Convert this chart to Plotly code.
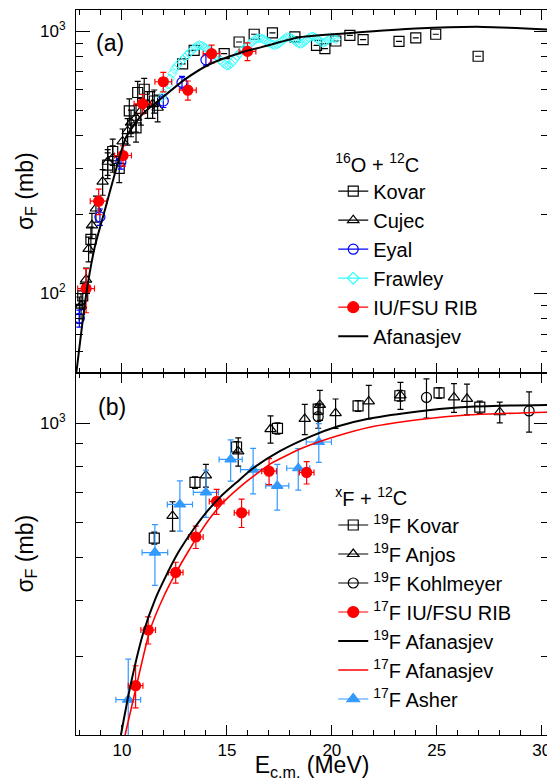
import numpy as np
import plotly.graph_objects as go

# ---------------- panel (a): 16O + 12C ----------------
kovar16_E = [7.97, 8.13, 8.52, 9.32, 9.56, 9.87, 10.35, 10.67, 10.75, 11.06, 11.54,
             12.89, 13.44, 14.87, 15.58, 16.3, 17.17, 18.24, 19.27, 19.67, 20.19,
             20.86, 21.49, 23.2, 24.0, 24.95, 26.97]
kovar16_S = [87, 98, 161, 309, 348, 300, 497, 428, 584, 601, 542,
             751, 845, 821, 910, 974, 985, 951, 884, 858, 918,
             965, 929, 915, 943, 974, 803]
kovar16_err = [10, 11, 18, 35, 40, 35, 55, 50, 60, 60, 55,
               0, 0, 0, 0, 0, 0, 0, 0, 0, 0,
               0, 0, 0, 0, 0, 0]

cujec_E = [8.05, 8.29, 8.41, 8.57, 8.76, 9.08, 9.32, 9.56, 10.03, 10.27, 10.43,
           10.67, 10.9, 11.22, 11.46, 11.7]
cujec_S = [90, 113, 148, 182, 211, 267, 318, 328, 380, 416, 448,
           468, 497, 527, 527, 511]
cujec_err = [10, 12, 16, 20, 24, 30, 36, 38, 44, 48, 52,
             55, 58, 62, 62, 60]

eyal_E = [7.97, 8.95, 9.95, 11.97, 12.86, 14.0]
eyal_S = [80.5, 196, 318, 542, 638, 778]
eyal_err = [6, 14, 20, 30, 35, 40]

frawley_E = [11.9, 12.0, 12.1, 12.2, 12.3, 12.4, 12.5, 12.6, 12.7, 12.8, 12.9,
             13.0, 13.1, 13.2, 13.3, 13.4, 13.5, 13.6, 13.7, 13.8, 13.9,
             14.0, 14.1, 14.2, 14.3, 14.4, 14.5, 14.6, 14.7, 14.8, 14.9,
             15.0, 15.1, 15.2, 15.3, 15.4, 15.5, 15.6, 15.7, 15.8, 15.9,
             16.0, 16.1, 16.2, 16.3, 16.4, 16.5, 16.6, 16.7, 16.8, 16.9,
             17.0, 17.1, 17.2, 17.3, 17.4, 17.5, 17.6, 17.7, 17.8, 17.9,
             18.0, 18.1, 18.2, 18.3, 18.4, 18.5, 18.6, 18.7, 18.8, 18.9,
             19.0, 19.1, 19.2, 19.3, 19.4, 19.5, 19.6, 19.7, 19.8, 19.9,
             20.0, 20.1, 20.2]
frawley_S = [560, 580, 600, 625, 660, 690, 715, 735, 750, 765, 780,
             795, 810, 825, 840, 855, 868, 880, 885, 882, 872,
             862, 852, 840, 825, 810, 800, 790, 775, 760, 748,
             740, 742, 752, 768, 785, 805, 825, 842, 855, 868,
             880, 895, 910, 925, 935, 940, 940, 935, 928, 918,
             905, 895, 888, 885, 890, 900, 915, 930, 942, 950,
             948, 938, 925, 910, 900, 895, 900, 912, 928, 942,
             952, 955, 948, 935, 920, 908, 905, 912, 925, 938,
             945, 940, 932]

rib16_E = [8.29, 8.89, 10.05, 10.98, 11.97, 13.14, 14.27, 15.98]
rib16_S = [104.5, 225, 336, 529, 642, 596, 821, 838]
rib16_dE = [0.4, 0.4, 0.4, 0.4, 0.4, 0.4, 0.4, 0.4]
rib16_dS = [20, 25, 30, 45, 55, 50, 65, 65]

afan16_E = [7.8, 8.0, 8.3, 8.7, 9.2, 9.6, 10.2, 11.0, 12.0, 13.0, 14.2, 15.7,
            16.9, 18.5, 20.9, 24.0, 27.2, 30.3]
afan16_S = [48, 65, 100, 150, 210, 275, 395, 485, 565, 655, 750, 830,
            880, 950, 985, 1024, 1039, 1015]

# ---------------- panel (b): xF + 12C ----------------
kovar19_E = [11.54, 13.48, 15.46, 17.41, 19.35, 21.25, 23.24, 25.11, 27.05]
kovar19_S = [553, 737, 885, 974, 1076, 1094, 1153, 1170, 1087]
kovar19_err = [17, 22, 25, 28, 30, 30, 32, 33, 35]

anjos_E = [12.41, 14.0, 15.54, 17.08, 18.71, 19.43, 20.18, 21.76, 23.27, 25.82, 26.44, 28.0]
anjos_S = [620, 764, 865, 971, 1023, 1100, 1054, 1120, 1155, 1143, 1135, 1059]
anjos_err = [47, 45, 63, 68, 80, 85, 80, 97, 80, 85, 90, 57]

kohl_E = [19.35, 24.51, 29.4]
kohl_S = [1035, 1143, 1066]
kohl_err = [60, 115, 110]

rib17_E = [10.65, 11.25, 12.56, 13.52, 14.51, 15.70, 17.01, 18.8]
rib17_S = [258, 344, 463, 556, 668, 630, 781, 776]
rib17_dE = [0.35, 0.35, 0.35, 0.35, 0.35, 0.35, 0.35, 0.35]
rib17_dS = [28, 24, 25, 32, 43, 46, 52, 45]

asher_E = [10.3, 11.57, 12.76, 14.0, 15.18, 16.25, 17.4, 18.4, 19.38]
asher_S = [240, 513, 658, 700, 830, 787, 724, 793, 908]
asher_dE = [0.59, 0.61, 0.6, 0.6, 0.55, 0.6, 0.55, 0.55, 0.6]
asher_dS = [56, 80, 85, 85, 88, 92, 85, 85, 91]

afan19_E = [9.95, 10.38, 11.0, 11.6, 12.1, 12.7, 13.4, 14.0, 14.7, 15.5, 16.2, 17.5,
            19.0, 20.3, 21.8, 24.2, 26.0, 28.0, 30.5]
afan19_S = [200, 255, 337, 405, 455, 515, 578, 630, 685, 740, 790, 865,
            935, 985, 1025, 1065, 1085, 1095, 1100]

afan17_E = [10.15, 10.7, 11.33, 12.0, 12.6, 13.2, 13.71, 14.3, 14.98, 15.7, 16.41,
            17.05, 18.6, 20.2, 21.8, 24.2, 26.6, 30.5]
afan17_S = [200, 259, 343, 410, 465, 520, 568, 622, 676, 725, 770,
            810, 880, 935, 980, 1020, 1045, 1060]

# tick labels
ytick_vals_a = [100, 1000]
ytick_text_a = ["10<sup>2</sup>", "10<sup>3</sup>"]
ytick_vals_b = [1000]
ytick_text_b = ["10<sup>3</sup>"]
xtick_vals = [10, 15, 20, 25, 30]
xtick_text = ["10", "15", "20", "25", "30"]

FONT = "Liberation Sans, Arial, Helvetica, sans-serif"
RED = "#ff0000"
BLUE = "#0000ff"
CYAN = "#33ffff"
ASHER = "#3399ff"

fig = go.Figure()


def ebar(arr, color, width=3):
    return dict(type="data", array=arr, visible=True, color=color, thickness=1.2, width=width)


def add_pts(x, y, ey, color, symbol, size, ya, ex=None, fill=None, lw=1.2):
    mk = dict(symbol=symbol, size=size, color=fill if fill else color,
              line=dict(color=color, width=lw))
    tr = go.Scatter(x=x, y=y, mode="markers", marker=mk, xaxis="x" if ya == "y" else "x2",
                    yaxis=ya, showlegend=False, hoverinfo="x+y")
    if ey is not None:
        tr.error_y = ebar(ey, color)
    if ex is not None:
        tr.error_x = ebar(ex, color)
    fig.add_trace(tr)


def add_leg(name, color, symbol, size, legend, fill=None, lw=1.2):
    fig.add_trace(go.Scatter(x=[None], y=[None], mode="lines+markers", name=name,
                             line=dict(color=color, width=1.2),
                             marker=dict(symbol=symbol, size=size, color=fill if fill else color,
                                         line=dict(color=color, width=lw)),
                             xaxis="x2" if legend == "legend" else "x",
                             yaxis="y2" if legend == "legend" else "y",
                             legend=legend))


# ---- panel (a) traces ----
add_pts(kovar16_E, kovar16_S, kovar16_err, "black", "square-open", 10, "y2")
add_pts(cujec_E, cujec_S, cujec_err, "black", "triangle-up-open", 10, "y2")
add_pts(eyal_E, eyal_S, eyal_err, BLUE, "circle-open", 10, "y2")
add_pts(frawley_E, frawley_S, None, CYAN, "diamond-open", 7, "y2", lw=1)
add_pts(rib16_E, rib16_S, rib16_dS, RED, "circle", 10, "y2", ex=rib16_dE)

add_leg("Kovar", "black", "square-open", 10, "legend")
add_leg("Cujec", "black", "triangle-up-open", 10, "legend")
add_leg("Eyal", BLUE, "circle-open", 10, "legend")
add_leg("Frawley", CYAN, "diamond-open", 9, "legend")
add_leg("IU/FSU RIB", RED, "circle", 11, "legend")
fig.add_trace(go.Scatter(x=afan16_E, y=afan16_S, mode="lines", name="Afanasjev",
                         line=dict(color="black", width=2, shape="spline", smoothing=0.6),
                         xaxis="x2", yaxis="y2", legend="legend"))

# ---- panel (b) traces ----
add_pts(kovar19_E, kovar19_S, kovar19_err, "black", "square-open", 10, "y")
add_pts(anjos_E, anjos_S, anjos_err, "black", "triangle-up-open", 10, "y")
add_pts(kohl_E, kohl_S, kohl_err, "black", "circle-open", 10, "y")
add_pts(asher_E, asher_S, asher_dS, ASHER, "triangle-up", 10, "y", ex=asher_dE)
add_pts(rib17_E, rib17_S, rib17_dS, RED, "circle", 10, "y", ex=rib17_dE)

add_leg("<sup>19</sup>F Kovar", "black", "square-open", 10, "legend2")
add_leg("<sup>19</sup>F Anjos", "black", "triangle-up-open", 10, "legend2")
add_leg("<sup>19</sup>F Kohlmeyer", "black", "circle-open", 10, "legend2")
add_leg("<sup>17</sup>F IU/FSU RIB", RED, "circle", 11, "legend2")
fig.add_trace(go.Scatter(x=afan19_E, y=afan19_S, mode="lines", name="<sup>19</sup>F Afanasjev",
                         line=dict(color="black", width=2, shape="spline", smoothing=0.6),
                         xaxis="x", yaxis="y", legend="legend2"))
fig.add_trace(go.Scatter(x=afan17_E, y=afan17_S, mode="lines", name="<sup>17</sup>F Afanasjev",
                         line=dict(color=RED, width=1.6, shape="spline", smoothing=0.6),
                         xaxis="x", yaxis="y", legend="legend2"))
add_leg("<sup>17</sup>F Asher", ASHER, "triangle-up", 11, "legend2")

minor_x = [v for v in range(8, 31) if v % 5 != 0]
minor_ya = [50, 60, 70, 80, 90, 200, 300, 400, 500, 600, 700, 800, 900]
minor_yb = [200, 300, 400, 500, 600, 700, 800, 900]

xcommon = dict(range=[7.81, 30.3], tickmode="array", tickvals=xtick_vals, ticktext=xtick_text,
               ticks="inside", ticklen=10, tickwidth=1, tickcolor="black",
               minor=dict(tickmode="array", tickvals=minor_x, ticks="inside", ticklen=5,
                          tickwidth=1, tickcolor="black"),
               showline=True, linecolor="black", linewidth=1, mirror="allticks",
               showgrid=False, zeroline=False, automargin=False,
               tickfont=dict(family=FONT, size=17, color="black"))
ycommon = dict(type="log", tickmode="array", ticks="inside", ticklen=14, tickwidth=1,
               tickcolor="black", showline=True, linecolor="black", linewidth=1,
               mirror="allticks", showgrid=False, zeroline=False, automargin=False,
               tickfont=dict(family=FONT, size=17, color="black"),
               ticklabelstandoff=6)

# the page adds an 8 px body margin, so the figure is 8 px smaller and shifted
fig.update_layout(
    width=547, height=773,
    margin=dict(l=68, r=7, t=2, b=46, autoexpand=False),
    paper_bgcolor="white", plot_bgcolor="white",
    font=dict(family=FONT, size=17, color="black"),
    xaxis=dict(**xcommon, domain=[0, 1], anchor="y",
               title=dict(text="E<sub>c.m.</sub> (MeV)", font=dict(family=FONT, size=23),
                          standoff=4)),
    xaxis2=dict(**xcommon, domain=[0, 1], anchor="y2", matches="x", showticklabels=False),
    yaxis=dict(**ycommon, domain=[0, 0.5], anchor="x",
               range=[np.log10(200), 3.114], tickvals=ytick_vals_b, ticktext=ytick_text_b,
               minor=dict(tickmode="array", tickvals=minor_yb, ticks="inside", ticklen=7,
                          tickwidth=1, tickcolor="black"),
               title=dict(text="σ<sub>F</sub> (mb)", font=dict(family=FONT, size=23), standoff=0)),
    yaxis2=dict(**ycommon, domain=[0.5, 1], anchor="x2",
                range=[np.log10(50), 3.081], tickvals=ytick_vals_a, ticktext=ytick_text_a,
                minor=dict(tickmode="array", tickvals=minor_ya, ticks="inside", ticklen=7,
                           tickwidth=1, tickcolor="black"),
                title=dict(text="σ<sub>F</sub> (mb)", font=dict(family=FONT, size=23), standoff=0)),
    legend=dict(x=0.545, y=0.8128, xanchor="left", yanchor="top", bgcolor="rgba(0,0,0,0)",
                borderwidth=0, font=dict(family=FONT, size=20),
                title=dict(text="<sup>16</sup>O + <sup>12</sup>C", font=dict(family=FONT, size=20)),
                tracegroupgap=0),
    legend2=dict(x=0.545, y=0.3524, xanchor="left", yanchor="top", bgcolor="rgba(0,0,0,0)",
                 borderwidth=0, font=dict(family=FONT, size=20),
                 title=dict(text="<sup>x</sup>F + <sup>12</sup>C", font=dict(family=FONT, size=20)),
                 tracegroupgap=0),
    annotations=[
        dict(text="(a)", x=0.0725, y=0.955, xref="paper", yref="paper", showarrow=False,
             font=dict(family=FONT, size=23), xanchor="center", yanchor="middle"),
        dict(text="(b)", x=0.0766, y=0.4524, xref="paper", yref="paper", showarrow=False,
             font=dict(family=FONT, size=23), xanchor="center", yanchor="middle"),
    ],
)

fig.write_html("out.html")
